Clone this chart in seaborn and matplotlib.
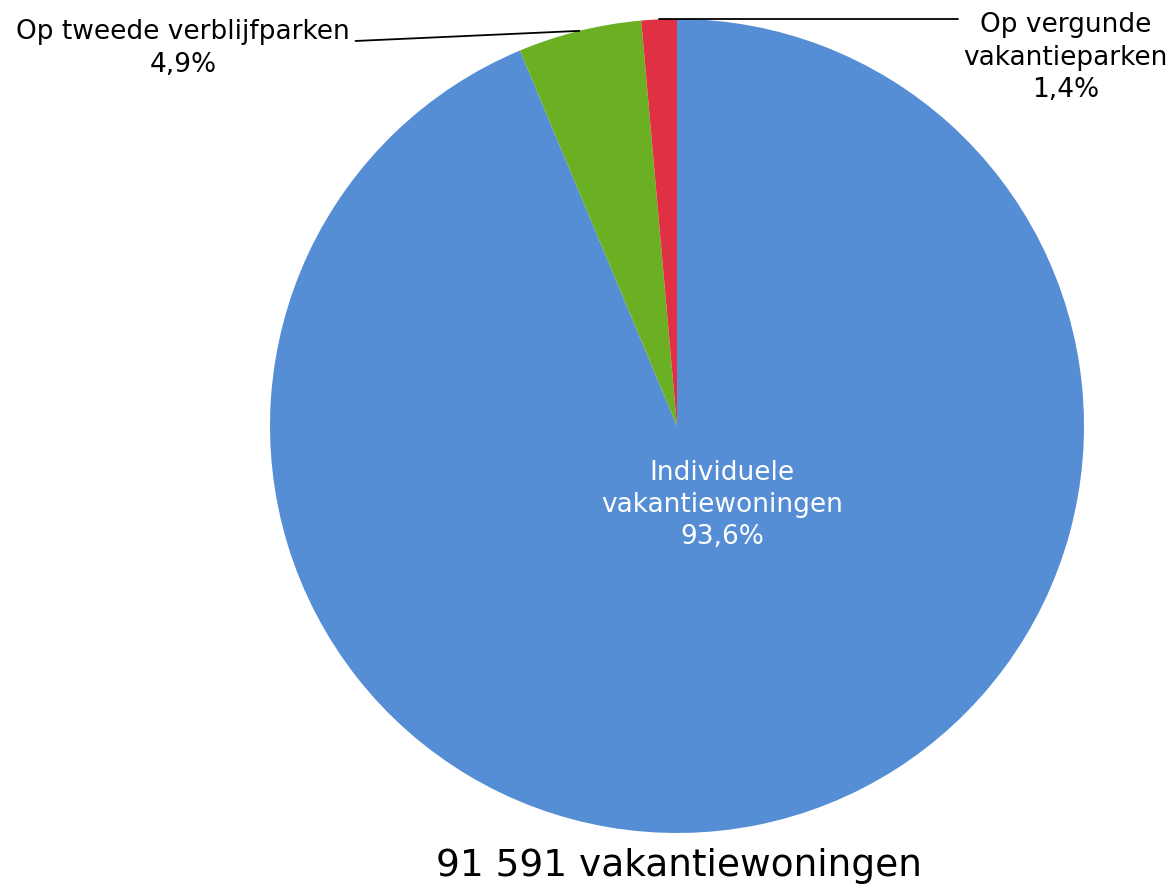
import numpy as np
import matplotlib
matplotlib.use("Agg")
import matplotlib.pyplot as plt
from matplotlib import font_manager
import seaborn as sns

# data
categories = ["Individuele\nvakantiewoningen", "Op tweede verblijfparken", "Op vergunde\nvakantieparken"]
shares = [93.6, 4.9, 1.4]
colors = ["#558ED5", "#6BAF23", "#E03043"]
total_label = "91 591 vakantiewoningen"


def pct(v):
    return ("%.1f%%" % v).replace(".", ",")


def main():
    sns.set_style("white")
    plt.rcParams['font.family'] = ['DejaVu Sans']
    plt.rcParams['text.color'] = 'black'
    fp = font_manager.FontProperties(fname=font_manager.findfont("DejaVu Sans"))

    fig = plt.figure(figsize=(11.75, 8.88), dpi=100)
    ax = fig.add_axes([270 / 1175, 55 / 888, 814 / 1175, 814 / 888])

    wedges, _ = ax.pie(shares, colors=colors, startangle=90, counterclock=False,
                       radius=1, wedgeprops=dict(linewidth=0))
    ax.set_xlim(-1, 1)
    ax.set_ylim(-1, 1)
    ax.set_aspect("equal")
    ax.axis("off")

    # inside label for the big slice
    ax.text(0.111, -0.194, categories[0] + "\n" + pct(shares[0]), color="white",
            ha="center", va="center", fontproperties=fp, fontsize=19, linespacing=1.32)

    # outside labels with leader lines
    text_pos = [None, (-1.214, 0.928), (0.955, 0.905)]
    line_end = [None, (-0.79, 0.946), (0.69, 1.0)]
    for i in (1, 2):
        w = wedges[i]
        mid = np.deg2rad((w.theta1 + w.theta2) / 2)
        x0, y0 = np.cos(mid), np.sin(mid)
        ex, ey = line_end[i]
        if i == 2:
            ey = y0
        ax.plot([x0, ex], [y0, ey], color="black", lw=1.3, clip_on=False)
        ax.text(text_pos[i][0], text_pos[i][1], categories[i] + "\n" + pct(shares[i]),
                ha="center", va="center", fontproperties=fp, fontsize=19,
                linespacing=1.32, clip_on=False)

    fig.text(0.578, 1 - 866 / 888, total_label, ha="center", va="center",
             fontproperties=fp, fontsize=27)

    fig.savefig("out.png", dpi=100)


if __name__ == "__main__":
    main()
